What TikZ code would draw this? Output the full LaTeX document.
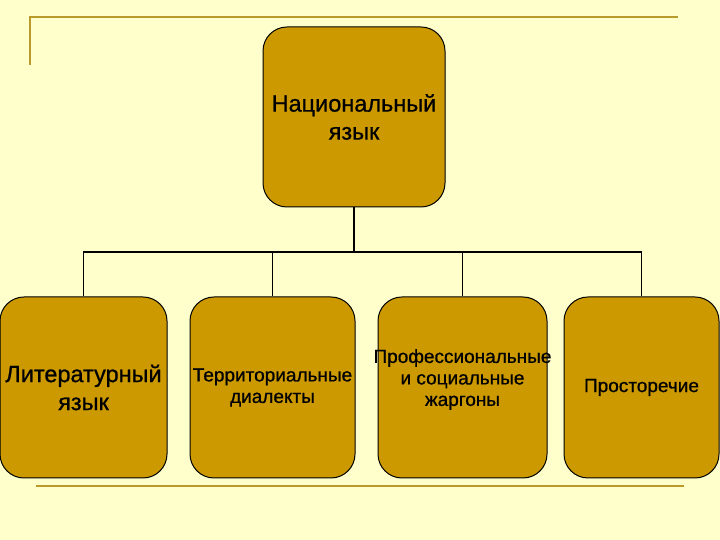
\documentclass[tikz,border=0pt]{standalone}
\usepackage{fontspec}
\setmainfont{Liberation Sans}
\definecolor{slidebg}{HTML}{FFFFCC}
\definecolor{boxgold}{HTML}{CC9900}
\definecolor{rulegold}{HTML}{B89B2A}

\begin{document}
\begin{tikzpicture}[x=1pt,y=1pt,line width=1.3pt,
    lang box/.style={draw=black,line width=1pt,fill=boxgold,rounded corners=24pt,inner sep=0pt,align=center,minimum height=181pt},
    big text/.style={font=\fontsize{23.5}{28}\selectfont\addfontfeature{FakeBold=0.8}},
    small text/.style={font=\fontsize{19}{21.5}\selectfont\addfontfeature{FakeBold=0.8}},
    deco/.style={draw=rulegold,line width=2pt}]
    \fill[slidebg] (0,0) rectangle (720,540);
    \useasboundingbox (0,0) rectangle (720,540);

    \draw[deco] (30,475) -- (30,523) -- (678,523);
    \draw[deco] (36,54) -- (684,54);

    \node[lang box,big text,minimum width=182pt,minimum height=180pt] (nat) at (354,423) {Национальный\\язык};
    \node[lang box,big text,minimum width=167pt] (lit) at (83.5,152.5) {Литературный\\язык};
    \node[lang box,small text,minimum width=165pt] (dial) at (272.5,152.5) {Территориальные\\диалекты};
    \node[lang box,minimum width=169pt,
        label={[small text,align=center,yshift=8pt]center:Профессиональные\\и социальные\\жаргоны}] (jarg) at (462.5,152.5) {};
    \node[lang box,small text,minimum width=155pt] (prost) at (641.5,152.5) {Просторечие};

    \coordinate (fork) at (354,288);
    \draw (nat) -- (fork);
    \draw (fork) -| (lit);
    \draw (fork) -| (dial);
    \draw (fork) -| (jarg);
    \draw (fork) -| (prost);
\end{tikzpicture}
\end{document}
